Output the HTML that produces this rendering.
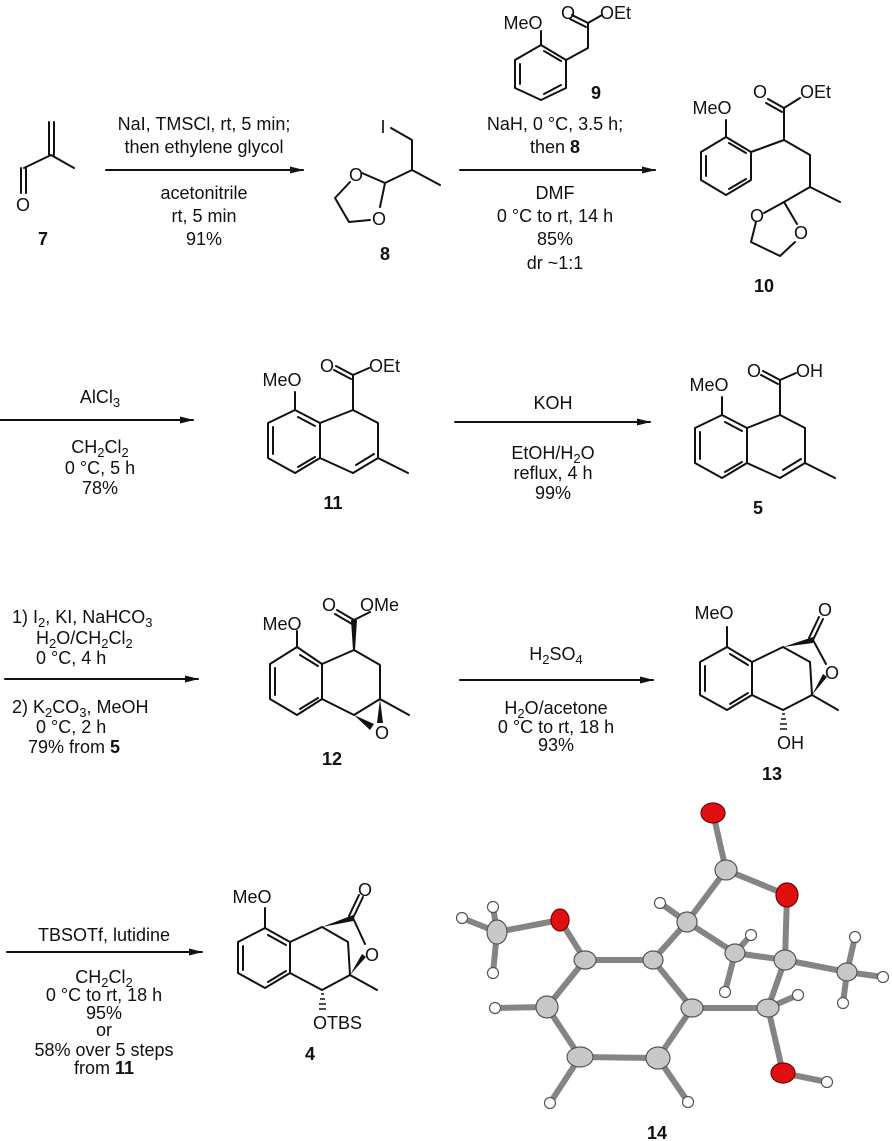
<!DOCTYPE html>
<html><head><meta charset="utf-8"><style>
html,body{margin:0;padding:0;background:#fff}
svg{display:block}
text{font-family:"Liberation Sans",Arial,sans-serif;font-size:18px;fill:#111}
.c{text-anchor:middle}
.b{font-weight:bold}
.bd{stroke:#111;stroke-width:2;fill:none;stroke-linecap:round;stroke-linejoin:round}
.ob{stroke:#858585;stroke-width:6;stroke-linecap:round}
.ca{fill:#c8c8c8;stroke:#555;stroke-width:1.2}
.oa{fill:#e01010;stroke:#700;stroke-width:1.2}
.ha{fill:#fff;stroke:#555;stroke-width:1.2}
</style></head><body>
<svg width="892" height="1141" viewBox="0 0 892 1141" xmlns="http://www.w3.org/2000/svg">
<defs>
<marker id="ah" markerWidth="14" markerHeight="10" refX="13" refY="5" orient="auto" markerUnits="userSpaceOnUse">
<path d="M0,1.5 L14,5 L0,8.5 Z" fill="#111"/></marker>
</defs>

<!-- ROW 1 -->
<g class="bd">
<line x1="49" y1="122" x2="49" y2="155"/><line x1="54" y1="122" x2="54" y2="155"/>
<path d="M51,155 L74,168 M51,155 L24,168"/>
<line x1="21" y1="168" x2="21" y2="193"/><line x1="26" y1="168" x2="26" y2="193"/>
</g>
<text x="23" y="211" class="c">O</text>
<text x="43" y="245" class="c b">7</text>

<line x1="106" y1="170" x2="303" y2="170" class="bd" marker-end="url(#ah)"/>
<text x="204" y="130" class="c">NaI, TMSCl, rt, 5 min;</text>
<text x="204" y="153" class="c">then ethylene glycol</text>
<text x="204" y="199" class="c">acetonitrile</text>
<text x="204" y="222" class="c">rt, 5 min</text>
<text x="204" y="245" class="c">91%</text>

<text x="383" y="133" class="c">I</text>
<path class="bd" d="M391,128 L412,140 L412,170 L440,185 M412,170 L385,183 L362,173 M385,183 L380,207 M350,182 L335,198 L349,222 L370,220"/>
<text x="356" y="181" class="c">O</text>
<text x="379" y="225" class="c">O</text>
<text x="385" y="260" class="c b">8</text>

<line x1="460" y1="170" x2="655" y2="170" class="bd" marker-end="url(#ah)"/>
<text x="555" y="130" class="c">NaH, 0 °C, 3.5 h;</text>
<text x="555" y="153" class="c">then <tspan class="b">8</tspan></text>
<text x="555" y="199" class="c">DMF</text>
<text x="555" y="222" class="c">0 °C to rt, 14 h</text>
<text x="555" y="245" class="c">85%</text>
<text x="555" y="269" class="c">dr ~1:1</text>

<path class="bd" d="M541,45 L566,60 L566,88 L541,100 L515,88 L515,60 Z M520,64 L520,84 M544,94 L561,85 M544,51 L561,61 M541,45 L541,31 M566,60 L588,48 L588,23 L602,15"/>
<path class="bd" d="M588,23 L572,15 M586,27 L570,19"/>
<text x="523" y="29" class="c">MeO</text>
<text x="568" y="19" class="c">O</text>
<text x="600" y="19">OEt</text>
<text x="596" y="99" class="c b">9</text>

<path class="bd" d="M726,137 L751,152 L751,180 L726,195 L701,180 L701,152 Z M706,156 L706,176 M729,189 L746,179 M729,143 L746,153 M726,137 L726,120 M751,152 L784,140 L784,108 L800,98 M784,140 L810,155 L810,187 L840,202 M810,187 L784,202 L764,213 M784,202 L797,224 M756,222 L751,242 L780,256 L795,242"/>
<path class="bd" d="M784,108 L768,99 M782,112 L766,103"/>
<text x="712" y="114" class="c">MeO</text>
<text x="760" y="98" class="c">O</text>
<text x="800" y="98">OEt</text>
<text x="757" y="222" class="c">O</text>
<text x="801" y="239" class="c">O</text>
<text x="764" y="292" class="c b">10</text>

<!-- ROW 2 -->
<line x1="0" y1="420" x2="193" y2="420" class="bd" marker-end="url(#ah)"/>
<text x="100" y="403" class="c">AlCl<tspan font-size="13" dy="4">3</tspan></text>
<text x="100" y="453" class="c">CH<tspan font-size="13" dy="4">2</tspan><tspan dy="-4">Cl</tspan><tspan font-size="13" dy="4">2</tspan></text>
<text x="100" y="474" class="c">0 °C, 5 h</text>
<text x="100" y="494" class="c">78%</text>

<g transform="translate(295,410)">
<path class="bd" d="M0,0 L25,13 L25,48 L0,63 L-27,48 L-27,13 Z M3,7 L20,16 M-22,17 L-22,44 M3,57 L20,47 M25,13 L58,0 L83,13 L83,48 L58,63 L25,48 M79,44 L61,55 M83,48 L113,63 M58,0 L58,-35 L74,-42 M0,0 L0,-18"/>
<path class="bd" d="M58,-35 L41,-44 M56,-31 L39,-40"/>
<text x="-13" y="-24" class="c">MeO</text>
<text x="32" y="-38" class="c">O</text>
<text x="74" y="-38">OEt</text>
</g>
<text x="333" y="509" class="c b">11</text>

<line x1="455" y1="422" x2="650" y2="422" class="bd" marker-end="url(#ah)"/>
<text x="553" y="409" class="c">KOH</text>
<text x="553" y="459" class="c">EtOH/H<tspan font-size="13" dy="4">2</tspan><tspan dy="-4">O</tspan></text>
<text x="553" y="479" class="c">reflux, 4 h</text>
<text x="553" y="499" class="c">99%</text>

<g transform="translate(722,415)">
<path class="bd" d="M0,0 L25,13 L25,48 L0,63 L-27,48 L-27,13 Z M3,7 L20,16 M-22,17 L-22,44 M3,57 L20,47 M25,13 L58,0 L83,13 L83,48 L58,63 L25,48 M79,44 L61,55 M83,48 L113,63 M58,0 L58,-35 L74,-42 M0,0 L0,-18"/>
<path class="bd" d="M58,-35 L41,-44 M56,-31 L39,-40"/>
<text x="-13" y="-24" class="c">MeO</text>
<text x="32" y="-38" class="c">O</text>
<text x="74" y="-38">OH</text>
</g>
<text x="758" y="514" class="c b">5</text>

<!-- ROW 3 -->
<line x1="5" y1="679" x2="198" y2="679" class="bd" marker-end="url(#ah)"/>
<text x="12" y="623">1) I<tspan font-size="13" dy="4">2</tspan><tspan dy="-4">, KI, NaHCO</tspan><tspan font-size="13" dy="4">3</tspan></text>
<text x="36" y="644">H<tspan font-size="13" dy="4">2</tspan><tspan dy="-4">O/CH</tspan><tspan font-size="13" dy="4">2</tspan><tspan dy="-4">Cl</tspan><tspan font-size="13" dy="4">2</tspan></text>
<text x="36" y="664">0 °C, 4 h</text>
<text x="12" y="713">2) K<tspan font-size="13" dy="4">2</tspan><tspan dy="-4">CO</tspan><tspan font-size="13" dy="4">3</tspan><tspan dy="-4">, MeOH</tspan></text>
<text x="36" y="733">0 °C, 2 h</text>
<text x="28" y="753">79% from <tspan class="b">5</tspan></text>

<g transform="translate(297,647)">
<path class="bd" d="M0,0 L25,17 L25,52 L0,68 L-27,52 L-27,17 Z M3,8 L21,19 M-22,21 L-22,48 M3,62 L21,51 M25,17 L57,3 L83,18 L83,52 L57,68 L25,52 M83,52 L112,68 M57,-27 L73,-35 M0,0 L0,-16"/>
<path class="bd" d="M57,-27 L40,-37 M55,-23 L38,-33"/>
<polygon points="56,3 58,3 60,-27 54,-27" fill="#111"/>
<polygon points="57,68 77,77 73,83" fill="#111"/>
<polygon points="83,52 80,76 86,76" fill="#111"/>
<text x="-15" y="-17" class="c">MeO</text>
<text x="32" y="-36" class="c">O</text>
<text x="63" y="-36">OMe</text>
<text x="85" y="92" class="c">O</text>
</g>
<text x="332" y="765" class="c b">12</text>

<line x1="460" y1="680" x2="653" y2="680" class="bd" marker-end="url(#ah)"/>
<text x="556" y="660" class="c">H<tspan font-size="13" dy="4">2</tspan><tspan dy="-4">SO</tspan><tspan font-size="13" dy="4">4</tspan></text>
<text x="556" y="714" class="c">H<tspan font-size="13" dy="4">2</tspan><tspan dy="-4">O/acetone</tspan></text>
<text x="556" y="733" class="c">0 °C to rt, 18 h</text>
<text x="556" y="751" class="c">93%</text>

<g transform="translate(727,647)">
<path class="bd" d="M0,0 L25,15 L25,48 L0,63 L-27,48 L-27,15 Z M3,7 L21,18 M-22,19 L-22,44 M3,57 L21,46 M25,15 L56,0 L83,15 L85,48 L56,63 L25,48 M85,48 L111,63 M86,-7 L99,17 M0,0 L0,-20"/>
<path class="bd" d="M86,-7 L96,-28 M82,-9 L92,-30"/>
<polygon points="56,0 86,-10 86,-4" fill="#111"/>
<polygon points="85,48 100,30 96,27" fill="#111"/>
<g stroke="#111" stroke-width="1.5"><line x1="55" y1="67" x2="58" y2="67"/><line x1="54" y1="72" x2="59" y2="72"/><line x1="53" y1="77" x2="60" y2="77"/><line x1="53" y1="82" x2="60" y2="82"/></g>
<text x="-13" y="-28" class="c">MeO</text>
<text x="98" y="-31" class="c">O</text>
<text x="105" y="32" class="c">O</text>
<text x="50" y="102">OH</text>
</g>
<text x="772" y="780" class="c b">13</text>

<!-- ROW 4 -->
<line x1="7" y1="952" x2="202" y2="952" class="bd" marker-end="url(#ah)"/>
<text x="104" y="941" class="c">TBSOTf, lutidine</text>
<text x="104" y="983" class="c">CH<tspan font-size="13" dy="4">2</tspan><tspan dy="-4">Cl</tspan><tspan font-size="13" dy="4">2</tspan></text>
<text x="104" y="1001" class="c">0 °C to rt, 18 h</text>
<text x="104" y="1019" class="c">95%</text>
<text x="104" y="1036" class="c">or</text>
<text x="104" y="1056" class="c">58% over 5 steps</text>
<text x="104" y="1074" class="c">from <tspan class="b">11</tspan></text>

<g transform="translate(265,928)">
<path class="bd" d="M0,0 L25,14 L25,45 L0,60 L-27,45 L-27,14 Z M3,7 L21,17 M-22,18 L-22,42 M3,54 L21,43 M25,14 L57,-1 L83,14 L85,47 L57,62 L25,45 M85,47 L112,62 M88,-10 L100,16 M0,0 L0,-20"/>
<path class="bd" d="M88,-10 L98,-31 M84,-12 L94,-33"/>
<polygon points="57,-1 88,-13 88,-7" fill="#111"/>
<polygon points="85,47 101,29 97,26" fill="#111"/>
<g stroke="#111" stroke-width="1.5"><line x1="56" y1="66" x2="59" y2="66"/><line x1="55" y1="71" x2="60" y2="71"/><line x1="54" y1="76" x2="61" y2="76"/><line x1="54" y1="81" x2="61" y2="81"/></g>
<text x="-13" y="-25" class="c">MeO</text>
<text x="100" y="-32" class="c">O</text>
<text x="107" y="33" class="c">O</text>
<text x="48" y="101">OTBS</text>
</g>
<text x="310" y="1060" class="c b">4</text>

<!-- 14 ORTEP -->
<g>
<line class="ob" x1="713" y1="813" x2="726" y2="870"/>
<line class="ob" x1="726" y1="870" x2="787" y2="895"/>
<line class="ob" x1="726" y1="870" x2="687" y2="922"/>
<line class="ob" x1="687" y1="922" x2="660" y2="903"/>
<line class="ob" x1="687" y1="922" x2="653" y2="960"/>
<line class="ob" x1="687" y1="922" x2="735" y2="953"/>
<line class="ob" x1="735" y1="953" x2="785" y2="960"/>
<line class="ob" x1="735" y1="953" x2="751" y2="935"/>
<line class="ob" x1="735" y1="953" x2="725" y2="992"/>
<line class="ob" x1="787" y1="895" x2="785" y2="960"/>
<line class="ob" x1="785" y1="960" x2="847" y2="972"/>
<line class="ob" x1="847" y1="972" x2="855" y2="937"/>
<line class="ob" x1="847" y1="972" x2="883" y2="977"/>
<line class="ob" x1="847" y1="972" x2="843" y2="1003"/>
<line class="ob" x1="785" y1="960" x2="768" y2="1008"/>
<line class="ob" x1="653" y1="960" x2="585" y2="960"/>
<line class="ob" x1="585" y1="960" x2="560" y2="920"/>
<line class="ob" x1="560" y1="920" x2="497" y2="932"/>
<line class="ob" x1="497" y1="932" x2="493" y2="907"/>
<line class="ob" x1="497" y1="932" x2="462" y2="918"/>
<line class="ob" x1="497" y1="932" x2="493" y2="973"/>
<line class="ob" x1="585" y1="960" x2="547" y2="1007"/>
<line class="ob" x1="547" y1="1007" x2="495" y2="1008"/>
<line class="ob" x1="547" y1="1007" x2="580" y2="1057"/>
<line class="ob" x1="580" y1="1057" x2="550" y2="1103"/>
<line class="ob" x1="580" y1="1057" x2="658" y2="1058"/>
<line class="ob" x1="658" y1="1058" x2="688" y2="1102"/>
<line class="ob" x1="658" y1="1058" x2="692" y2="1008"/>
<line class="ob" x1="692" y1="1008" x2="653" y2="960"/>
<line class="ob" x1="692" y1="1008" x2="768" y2="1008"/>
<line class="ob" x1="768" y1="1008" x2="798" y2="995"/>
<line class="ob" x1="768" y1="1008" x2="783" y2="1073"/>
<line class="ob" x1="783" y1="1073" x2="827" y2="1082"/>
</g>
<g>
<circle class="ha" cx="660" cy="903" r="5.5"/><circle class="ha" cx="751" cy="935" r="5.5"/><circle class="ha" cx="725" cy="992" r="5.5"/>
<circle class="ha" cx="855" cy="937" r="5.5"/><circle class="ha" cx="883" cy="977" r="5.5"/><circle class="ha" cx="843" cy="1003" r="5.5"/>
<circle class="ha" cx="493" cy="907" r="5.5"/><circle class="ha" cx="462" cy="918" r="5.5"/><circle class="ha" cx="493" cy="973" r="5.5"/>
<circle class="ha" cx="495" cy="1008" r="5.5"/><circle class="ha" cx="550" cy="1103" r="5.5"/><circle class="ha" cx="688" cy="1102" r="5.5"/>
<circle class="ha" cx="798" cy="995" r="5.5"/><circle class="ha" cx="827" cy="1082" r="5.5"/>
<ellipse class="oa" cx="713" cy="813" rx="12" ry="10"/>
<ellipse class="oa" cx="787" cy="895" rx="11" ry="12"/>
<ellipse class="oa" cx="560" cy="920" rx="9" ry="11"/>
<ellipse class="oa" cx="783" cy="1073" rx="12" ry="10"/>
<ellipse class="ca" cx="726" cy="870" rx="11" ry="10"/>
<ellipse class="ca" cx="687" cy="922" rx="10" ry="10"/>
<ellipse class="ca" cx="735" cy="953" rx="10" ry="9"/>
<ellipse class="ca" cx="785" cy="960" rx="11" ry="10"/>
<ellipse class="ca" cx="847" cy="972" rx="10" ry="9"/>
<ellipse class="ca" cx="653" cy="960" rx="10" ry="9"/>
<ellipse class="ca" cx="585" cy="960" rx="11" ry="9"/>
<ellipse class="ca" cx="497" cy="932" rx="10" ry="12"/>
<ellipse class="ca" cx="547" cy="1007" rx="11" ry="11"/>
<ellipse class="ca" cx="580" cy="1057" rx="13" ry="10"/>
<ellipse class="ca" cx="658" cy="1058" rx="12" ry="11"/>
<ellipse class="ca" cx="692" cy="1008" rx="11" ry="9"/>
<ellipse class="ca" cx="768" cy="1008" rx="11" ry="9"/>
</g>
<text x="657" y="1139" class="c b">14</text>
</svg>
</body></html>
